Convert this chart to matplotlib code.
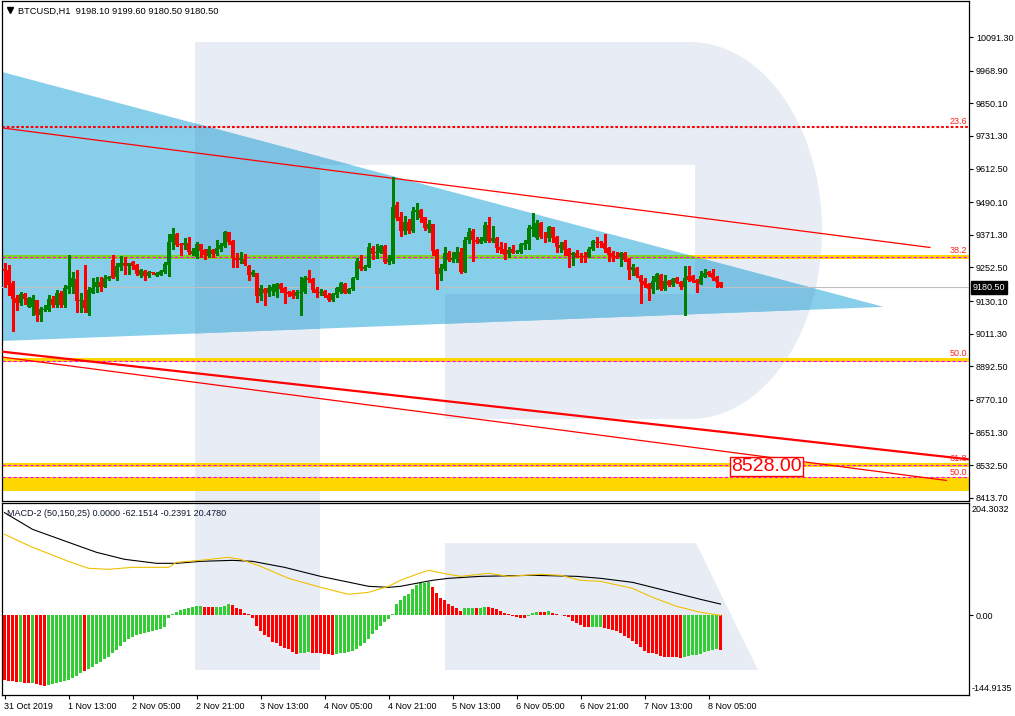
import numpy as np
import matplotlib
matplotlib.use("Agg")
import matplotlib.pyplot as plt
from matplotlib.patches import Polygon
from matplotlib.transforms import Affine2D, blended_transform_factory
from matplotlib.lines import Line2D

plt.rcParams['font.family'] = ['Liberation Sans', 'DejaVu Sans']

# ---------------- data ----------------
symbol_title = "BTCUSD,H1  9198.10 9199.60 9180.50 9180.50"
macd_title = "MACD-2 (50,150,25) 0.0000 -62.1514 -0.2391 20.4780"

opens = [9247, 9243, 9195, 9140, 9124, 9156, 9110, 9110, 9134, 9079,
         9097, 9098, 9138, 9116, 9161, 9116, 9174, 9182, 9211, 9132,
         9134, 9088, 9161, 9183, 9200, 9183, 9212, 9280, 9217, 9255,
         9270, 9258, 9272, 9261, 9226, 9238, 9222, 9235, 9222, 9226,
         9237, 9261, 9346, 9374, 9338, 9334, 9340, 9301, 9290, 9338,
         9316, 9296, 9316, 9301, 9320, 9332, 9380, 9349, 9286, 9280,
         9282, 9258, 9225, 9233, 9150, 9173, 9158, 9165, 9164, 9192,
         9177, 9162, 9164, 9150, 9160, 9164, 9213, 9211, 9174, 9158,
         9167, 9152, 9134, 9152, 9164, 9191, 9161, 9174, 9213, 9276,
         9247, 9255, 9322, 9304, 9306, 9331, 9274, 9277, 9480, 9435,
         9385, 9419, 9385, 9453, 9462, 9435, 9392, 9411, 9316, 9229,
         9247, 9304, 9280, 9282, 9308, 9237, 9352, 9385, 9352, 9343,
         9350, 9407, 9350, 9361, 9328, 9320, 9301, 9320, 9309, 9309,
         9334, 9338, 9392, 9358, 9415, 9365, 9358, 9398, 9365, 9325,
         9344, 9320, 9298, 9306, 9294, 9294, 9292, 9320, 9346, 9346,
         9343, 9322, 9304, 9295, 9289, 9306, 9283, 9243, 9252, 9223,
         9204, 9191, 9174, 9201, 9225, 9174, 9204, 9189, 9215, 9201,
         9183, 9221, 9221, 9207, 9192, 9219, 9237, 9233, 9219, 9198.1]
highs = [9269, 9261, 9203, 9152, 9164, 9158, 9144, 9152, 9134, 9110,
         9117, 9152, 9149, 9170, 9167, 9189, 9298, 9235, 9243, 9158,
         9261, 9182, 9213, 9219, 9219, 9226, 9220, 9298, 9269, 9294,
         9292, 9270, 9276, 9265, 9247, 9243, 9240, 9237, 9235, 9243,
         9274, 9374, 9397, 9378, 9343, 9361, 9365, 9325, 9345, 9338,
         9320, 9330, 9320, 9352, 9341, 9386, 9383, 9352, 9304, 9310,
         9300, 9261, 9243, 9233, 9189, 9177, 9189, 9193, 9196, 9196,
         9182, 9167, 9171, 9171, 9219, 9222, 9243, 9213, 9182, 9175,
         9171, 9158, 9160, 9182, 9200, 9195, 9177, 9219, 9286, 9298,
         9261, 9340, 9331, 9338, 9334, 9334, 9298, 9583, 9490, 9453,
         9440, 9428, 9474, 9488, 9464, 9437, 9425, 9411, 9318, 9264,
         9328, 9312, 9310, 9328, 9325, 9365, 9395, 9391, 9365, 9365,
         9419, 9437, 9403, 9365, 9344, 9340, 9326, 9334, 9316, 9340,
         9352, 9407, 9449, 9425, 9419, 9383, 9403, 9401, 9367, 9346,
         9352, 9322, 9310, 9316, 9306, 9310, 9326, 9352, 9365, 9350,
         9374, 9326, 9314, 9310, 9310, 9307, 9286, 9265, 9253, 9224,
         9215, 9195, 9221, 9231, 9227, 9225, 9207, 9213, 9219, 9203,
         9258, 9258, 9225, 9209, 9241, 9247, 9241, 9247, 9221, 9199.6]
lows = [9182, 9152, 9022, 9098, 9116, 9118, 9108, 9079, 9059, 9059,
        9094, 9094, 9110, 9110, 9110, 9110, 9158, 9158, 9092, 9092,
        9092, 9079, 9158, 9162, 9166, 9180, 9207, 9213, 9206, 9243,
        9228, 9228, 9247, 9224, 9219, 9207, 9218, 9228, 9222, 9225,
        9231, 9222, 9320, 9330, 9298, 9320, 9302, 9298, 9287, 9290,
        9285, 9290, 9292, 9298, 9314, 9327, 9338, 9255, 9255, 9270,
        9263, 9207, 9220, 9128, 9134, 9116, 9150, 9154, 9146, 9163,
        9122, 9149, 9142, 9142, 9079, 9160, 9201, 9162, 9144, 9154,
        9146, 9130, 9131, 9146, 9160, 9158, 9158, 9170, 9210, 9243,
        9243, 9253, 9282, 9286, 9304, 9267, 9264, 9270, 9425, 9368,
        9374, 9377, 9383, 9429, 9419, 9389, 9383, 9298, 9174, 9207,
        9243, 9276, 9274, 9274, 9231, 9235, 9340, 9277, 9343, 9340,
        9346, 9346, 9346, 9310, 9306, 9282, 9289, 9304, 9306, 9306,
        9320, 9320, 9368, 9355, 9358, 9346, 9350, 9346, 9310, 9310,
        9298, 9255, 9261, 9289, 9274, 9274, 9289, 9316, 9326, 9326,
        9310, 9277, 9277, 9286, 9259, 9277, 9210, 9225, 9219, 9124,
        9180, 9134, 9158, 9174, 9172, 9172, 9186, 9186, 9195, 9174,
        9079, 9204, 9201, 9162, 9191, 9216, 9221, 9207, 9183, 9180.5]
closes = [9240, 9189, 9138, 9124, 9156, 9138, 9140, 9142, 9079, 9101,
          9101, 9138, 9116, 9161, 9116, 9179, 9185, 9213, 9130, 9134,
          9104, 9170, 9179, 9200, 9183, 9213, 9217, 9213, 9258, 9270,
          9258, 9270, 9258, 9227, 9243, 9222, 9236, 9231, 9231, 9240,
          9265, 9346, 9374, 9334, 9334, 9343, 9308, 9313, 9338, 9312,
          9298, 9320, 9301, 9324, 9334, 9380, 9346, 9286, 9280, 9286,
          9265, 9225, 9237, 9150, 9177, 9158, 9179, 9182, 9192, 9174,
          9161, 9156, 9150, 9164, 9162, 9213, 9207, 9170, 9160, 9164,
          9150, 9134, 9156, 9177, 9195, 9161, 9174, 9215, 9276, 9247,
          9255, 9326, 9301, 9310, 9331, 9274, 9282, 9474, 9431, 9385,
          9419, 9385, 9459, 9462, 9431, 9395, 9411, 9314, 9229, 9252,
          9304, 9280, 9288, 9308, 9237, 9352, 9380, 9352, 9346, 9355,
          9407, 9350, 9361, 9325, 9316, 9298, 9316, 9306, 9314, 9338,
          9343, 9395, 9401, 9413, 9362, 9362, 9398, 9361, 9328, 9334,
          9316, 9295, 9306, 9292, 9289, 9292, 9320, 9349, 9340, 9343,
          9320, 9298, 9289, 9288, 9306, 9280, 9243, 9253, 9223, 9201,
          9189, 9174, 9204, 9229, 9174, 9204, 9189, 9210, 9197, 9183,
          9215, 9207, 9203, 9195, 9221, 9233, 9225, 9215, 9201, 9180.5]

macd_hist = [-117.6, -119.4, -120.0, -121.3, -121.9, -122.5, -123.1, -123.7, -125.5, -127.3, -128.5,
             -126.1, -124.3, -122.5, -121.3, -119.4, -117.0, -114.6, -110.3, -105.5,
             -101.3,
             -97.0, -93.4, -89.1, -84.9, -80.0, -75.2, -69.1, -63.1, -55.8, -48.5,
             -42.4, -38.8, -35.2, -33.3, -31.5, -30.3, -29.1, -27.3, -25.5, -22.0,
             -4.0,
             1.8, 6.7, 9.7, 12.1, 13.9, 15.8, 17.0, 17.0, 15.2, 15.2,
             15.2, 15.2, 15.8, 17.0, 20.0, 18.2, 13.9, 10.9, 4.9, 1.8,
             -4.2, -19.4, -28.5, -36.4, -39.4, -48.5, -50.9, -55.8, -58.8, -61.8,
             -66.7, -69.7, -69.1, -67.9, -67.3, -67.9, -68.5, -69.1, -69.7, -70.9, -71.5,
             -70.3, -69.1, -67.9, -66.7, -64.9, -60.6, -55.8, -49.7, -42.4, -34.6,
             -26.7, -19.4, -12.1, -6.1, 1.8, 20.0,
             27.3, 35.2, 38.2, 47.3, 54.6, 58.8, 59.4, 60.6,
             52.1, 41.2, 32.1, 27.3, 21.2, 17.0, 13.9, 7.3,
             12.7, 12.7, 12.7, 12.7, 12.7, 15.8, 15.8, 13.9, 12.1, 7.9,
             4.9, 1.8, -1.2, -3.0, -4.9, -4.9,
             -1.2, 3.6, 6.7, 6.7, 6.7, 8.5, 4.9, 2.4, 0.6, -0.6,
             -2.4, -10.3, -14.6, -18.2, -21.2,
             -21.8, -21.8, -21.8, -21.8,
             -22.4, -25.5, -27.3, -29.1, -31.5, -37.6, -40.6, -46.7, -51.5, -57.6,
             -65.5, -67.9, -69.1, -70.9, -74.0, -75.2, -75.8, -76.4, -76.4, -77.6,
             -75.2, -74.0, -72.8, -71.5, -69.7, -66.7, -64.9, -63.1, -61.8, -62.2]
hist_colors = ("rrrrgrrgrrr" "ggggggggg" "r"
               "ggggggggggggggggggggggggggggg" "rrr" "gggg"
               "rrrrrrrrrrrrrrrrr" "ggg" "rrrrrr"
               "gggggggggggggggggggggggg" "rrrrrrrr" "ggg" "r" "gg"
               "rrrrrrrrrr" "ggg" "rr" "g" "rrrrrrrrrr" "ggg"
               "rrrrrrrrrrrrrrrrrrrr" "ggggggggg" "r")

macd_bars = [0, 7, 16, 23, 30, 38, 43, 49, 57, 62, 70, 79, 91, 96, 99, 107, 111,
             119, 132, 143, 149, 157, 166, 174, 179]
macd_main = [186.8, 156.4, 132.8, 114.6, 101.9, 94.6, 94.6, 98.2, 100.0, 98.2, 87.3,
             70.9, 52.8, 50.9, 52.8, 63.7, 67.3, 70.9, 72.8, 70.9, 67.3, 60.0, 43.7,
             29.1, 20.5]
signal_bars = [0, 7, 16, 21, 26, 32, 41, 43, 49, 56, 59, 64, 71, 79, 86, 91, 96, 99,
               103, 106, 111, 114, 121, 126, 134, 139, 144, 149, 157, 162, 168, 174, 179]
signal_vals = [147.3, 123.7, 98.2, 85.5, 83.7, 87.3, 87.3, 96.4, 100.0, 105.5, 101.9,
               89.1, 67.3, 50.9, 38.2, 41.8, 52.8, 63.7, 74.6, 81.9, 74.6, 70.9, 76.4,
               70.9, 74.6, 72.8, 63.7, 61.8, 49.1, 32.7, 16.4, 5.5, 0.0]

xtick_bars = [0, 16, 32, 48, 64, 80, 96, 112, 128, 144, 160, 176]
xtick_labels = ['31 Oct 2019', '1 Nov 13:00', '2 Nov 05:00', '2 Nov 21:00',
                '3 Nov 13:00', '4 Nov 05:00', '4 Nov 21:00', '5 Nov 13:00',
                '6 Nov 05:00', '6 Nov 21:00', '7 Nov 13:00', '8 Nov 05:00']
price_ticks = [10091.30, 9968.90, 9850.10, 9731.30, 9612.50, 9490.10, 9371.30,
               9252.50, 9130.10, 9011.30, 8892.50, 8770.10, 8651.30, 8532.50, 8413.70]
macd_max, macd_min = 204.3032, -144.9135
last_price = 9180.50

# analysis objects (time in bar units, price)
triangle_time = [-0.6, 219.75, -0.6]
triangle_price = [9964, 9109, 8985]
line_upper_time, line_upper_price = [-0.4, 231.5], [9760, 9325]
line_mid_time, line_mid_price = [-0.6, 241.1], [8946, 8554]
line_low_time, line_low_price = [-0.4, 235.6], [8926, 8477]
fib_dotted_level, fib_dotted_label = 9763.7, '23.6'
band_labels = ['38.2', '50.0', '61.8', '50.0']
band_mid = [9291.0, 8913.8, 8533.4, 8488.0]
band_low = [9284.3, 8908.0, 8526.0, 8438.8]
band_high = [9296.6, 8923.0, 8540.7, 8489.7]
target_time, target_price, target_text = 190.4, 8529.0, '8528.00'

# ---------------- figure ----------------
W, H = 1015, 716
fig = plt.figure(figsize=(W / 100, H / 100), dpi=100, facecolor='white')
ax = fig.add_axes([2 / W, (H - 501) / H, 967 / W, 500 / H])
ax2 = fig.add_axes([2 / W, (H - 695) / H, 967 / W, 192 / H])
for a in (ax, ax2):
    a.set_xlim(-0.625, 241.125)
    a.set_facecolor('white')
    for s in a.spines.values():
        s.set_linewidth(0.9)
        s.set_color('black')
ax.set_ylim(8402.4, 10222.4)
ax2.set_ylim(macd_min, macd_max)

# watermark "R" (pixel coordinates, top-left origin)
pxT = Affine2D().scale(1, -1).translate(0, H)
tt = np.linspace(np.pi / 2, -np.pi / 2, 80)
arc = np.column_stack([690 + 132 * np.cos(tt), 230.5 - 188.5 * np.sin(tt)])
wm_polys = [
    np.array([[195, 42], [320, 42], [320, 670], [195, 670]]),
    np.array([[195, 42], [690, 42], [690, 165], [195, 165]]),
    np.vstack([arc, [[445, 419], [445, 294], [695, 294], [695, 165], [690, 165]]]),
    np.array([[445, 543], [696, 543], [758, 670], [445, 670]]),
]
for a in (ax, ax2):
    for poly in wm_polys:
        a.add_patch(Polygon(poly, closed=True, transform=pxT, facecolor='#E8EDF5',
                            edgecolor='none', zorder=0.5))

# triangle
tri = Polygon(list(zip(triangle_time, triangle_price)), closed=True,
              facecolor='#87CEEB', edgecolor='none', zorder=1)
ax.add_patch(tri)
for poly in wm_polys:
    p = Polygon(poly, closed=True, transform=pxT, facecolor='#7DC2E3',
                edgecolor='none', zorder=1.2)
    ax.add_patch(p)
    p.set_clip_path(tri)

# fib bands
for lo, hi, mid, lab in zip(band_low, band_high, band_mid, band_labels):
    ax.axhspan(lo, hi, color='#FFD700', lw=0, zorder=2)
    g = ax.axhspan(lo, hi, color='#7FD321', lw=0, zorder=2.1)
    g.set_clip_path(tri)
    ax.axhline(mid, color='#FF00FF', lw=0.8, ls=(0, (3, 2)), zorder=2.5)
    ax.text(240.6, hi + 1.5, lab, ha='right', va='bottom', fontsize=6.5,
            color='#FF2020', zorder=6)

ax.axhline(fib_dotted_level, color='#FF0000', lw=1.5, ls=(0, (1.3, 1.0)), zorder=2.5)
ax.text(240.6, fib_dotted_level + 4, fib_dotted_label, ha='right', va='bottom',
        fontsize=6.5, color='#FF2020', zorder=6)

# current price line
ax.axhline(last_price, color='#C0C0C0', lw=0.8, zorder=2.6)

# trend lines
ax.plot(line_upper_time, line_upper_price, color='#FF0000', lw=0.9, zorder=3,
        solid_capstyle='butt')
ax.plot(line_mid_time, line_mid_price, color='#FF0000', lw=1.6, zorder=3,
        solid_capstyle='butt')
ax.plot(line_low_time, line_low_price, color='#FF0000', lw=0.9, zorder=3,
        solid_capstyle='butt')

# candles
idx = np.arange(len(opens))
o = np.array(opens); c = np.array(closes); h = np.array(highs); l = np.array(lows)
ccol = np.where(c >= o, '#008000', '#FF0000')
ax.vlines(idx, l, h, colors=ccol, lw=0.75, zorder=4, antialiased=False)
ax.bar(idx, np.maximum(np.abs(c - o), 3.0), bottom=np.minimum(o, c), width=0.6,
       color=ccol, linewidth=0, zorder=5, antialiased=False)

# target label
ax.text(target_time, target_price, target_text, ha='center', va='center',
        fontsize=14, color='#FF0000', zorder=7,
        bbox=dict(boxstyle='square,pad=0.06', fc='white', ec='#FF0000', lw=1))

# axes ticks main
ax.yaxis.tick_right()
ax.set_yticks(price_ticks)
ax.set_yticklabels([f'{v:.2f}' for v in price_ticks])
ax.tick_params(axis='y', direction='out', length=3, width=0.8, pad=2, labelsize=6.5,
               colors='black')
ax.tick_params(axis='x', bottom=False, labelbottom=False)

# price tag
bt = blended_transform_factory(ax.transAxes, ax.transData)
ax.text(1 + 4 / 967, last_price, f'{last_price:.2f}', transform=bt, ha='left',
        va='center', fontsize=6.5, color='white', clip_on=False, zorder=10,
        bbox=dict(boxstyle='square,pad=0.2', fc='black', ec='black'))

# MACD panel
hcol = ['#32CD32' if ch == 'g' else '#FF0000' for ch in hist_colors]
ax2.bar(idx, macd_hist, width=0.72, color=hcol, linewidth=0, zorder=3,
        antialiased=False)
ax2.plot(macd_bars, macd_main, color='black', lw=0.8, zorder=4)
ax2.plot(signal_bars, signal_vals, color='#F0C000', lw=0.8, zorder=4)
ax2.yaxis.tick_right()
ax2.set_yticks([0])
ax2.set_yticklabels(['0.00'])
ax2.tick_params(axis='y', direction='out', length=3, width=0.8, pad=2, labelsize=6.5)
ax2.text(1 + 3 / 967, 1 - 2 / 192, f'{macd_max:.4f}', transform=ax2.transAxes,
         ha='left', va='top', fontsize=6.5)
ax2.text(1 + 3 / 967, 2 / 192, f'{macd_min:.4f}', transform=ax2.transAxes,
         ha='left', va='bottom', fontsize=6.5)
ax2.set_xticks(xtick_bars)
ax2.set_xticklabels(xtick_labels, ha='left')
ax2.tick_params(axis='x', direction='out', length=3, width=0.8, pad=2, labelsize=6.5)
ax2.text(5 / 967, 1 - 10 / 192, macd_title, transform=ax2.transAxes, ha='left',
         va='center', fontsize=6.5, color='#101830', zorder=6)

# title
fig.text(18 / W, 1 - 11 / H, symbol_title, ha='left', va='center', fontsize=6.7,
         color='black')
fig.add_artist(Line2D([10 / W], [1 - 10 / H], marker='v', markersize=4, color='black',
                      lw=0, transform=fig.transFigure))

fig.savefig('out.png', dpi=100, facecolor='white')
